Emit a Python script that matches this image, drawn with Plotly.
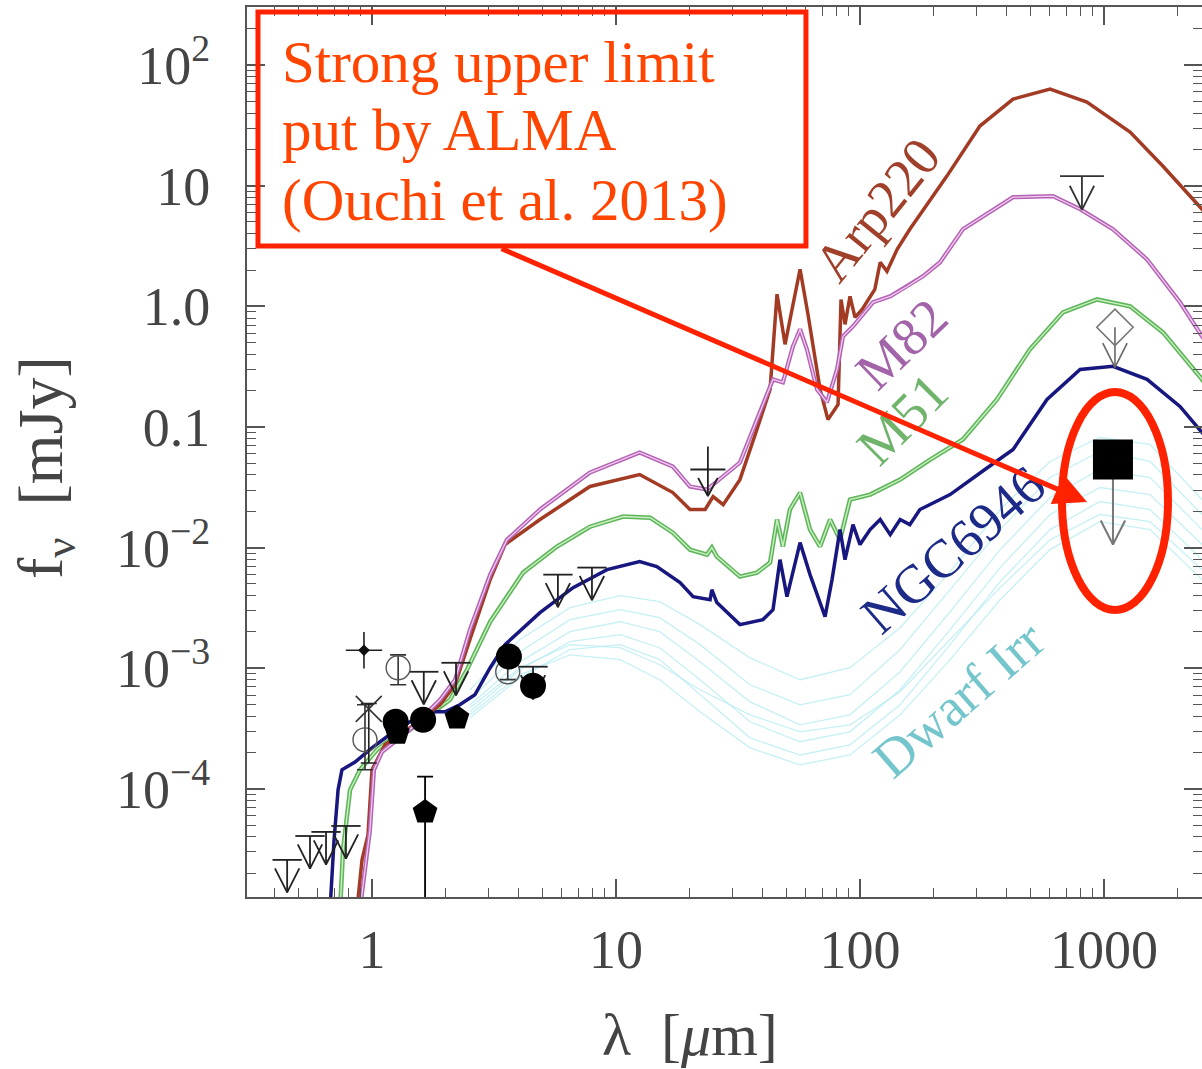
import plotly.graph_objects as go

# ---------------- data (wavelength in micron, flux in mJy) ----------------
ARP_LAM = [0.868, 0.910, 0.963, 1.0, 1.13, 1.43, 1.90, 2.19, 2.52, 3.05, 3.51, 4.88, 7.82, 12.5, 17.1, 20.1,
           23.2, 25.0, 27.5, 32.2, 37.8, 42.8, 45.7, 49.3, 56.8, 61.2, 68.6, 73.9, 81.3, 83.6, 86.8, 91.0,
           95.4, 102, 115, 121, 129, 142, 160, 227, 310, 424, 601, 851, 1279, 1745, 2522, 3610]
ARP_F = [1e-5, 2.58e-5, 4.15e-5, 1.44e-4, 2.32e-4, 3.21e-4, 4.98e-4, 7.3e-4, 1.73e-3, 5.43e-3, 1.06e-2, 1.71e-2,
         3.21e-2, 4.03e-2, 2.86e-2, 2.07e-2, 2.07e-2, 2.65e-2, 2.27e-2, 3.66e-2, 9.53e-2, 0.205, 1.26, 0.484,
         2.03, 0.859, 0.205, 0.115, 0.154, 1.14, 0.709, 1.21, 0.811, 0.944, 1.38, 2.32, 1.95, 2.97, 4.35,
         12.0, 31.2, 52.2, 63.2, 49.3, 27.8, 14.5, 6.38, 2.36]

M82_LAM = [0.893, 0.936, 0.981, 1.019, 1.10, 1.24, 1.43, 1.90, 2.19, 2.52, 3.05, 3.57, 4.88, 7.82, 12.5, 17.1,
           20.1, 23.6, 27.5, 32.2, 37.8, 44.0, 48.3, 53.1, 56.8, 60.6, 66.6, 73.2, 80.5, 85.2, 93.6, 113, 133,
           156, 181, 213, 264, 424, 618, 798, 1088, 1501, 2048, 2522, 3610]
M82_F = [1e-5, 2.13e-5, 4.57e-5, 1.44e-4, 2.03e-4, 2.46e-4, 3.09e-4, 5.48e-4, 8.03e-4, 2.09e-3, 5.97e-3, 1.16e-2,
         2.07e-2, 4.19e-2, 6.14e-2, 4.70e-2, 3.21e-2, 3.03e-2, 3.88e-2, 5.07e-2, 0.115, 0.248, 0.234, 0.466,
         0.645, 0.440, 0.205, 0.160, 0.300, 0.564, 0.683, 1.08, 1.21, 1.46, 1.77, 2.32, 4.35, 8.03, 8.18, 6.38,
         4.35, 2.45, 1.08, 0.564, 0.205]

M51_LAM = [0.740, 0.761, 0.813, 0.893, 1.048, 1.185, 1.43, 1.778, 2.088, 2.45, 3.05, 4.16, 5.73, 7.82, 10.7,
           13.8, 17.1, 20.1, 23.6, 24.7, 25.9, 32.2, 37.8, 42.8, 45.7, 48.3, 51.6, 56.8, 62.4, 68.6, 75.4, 82.8,
           91.0, 110, 146, 194, 264, 364, 497, 679, 936, 1279, 1745, 2522, 3610]
M51_F = [1e-5, 3.12e-5, 9.82e-5, 1.44e-4, 2.11e-4, 2.55e-4, 3.09e-4, 4.36e-4, 5.48e-4, 9.72e-4, 2.43e-3, 6.20e-3,
         1.02e-2, 1.49e-2, 1.81e-2, 1.77e-2, 1.33e-2, 9.62e-3, 8.75e-3, 1.0e-2, 8.42e-3, 5.75e-3, 6.20e-3,
         7.51e-3, 1.71e-2, 1.02e-2, 2.07e-2, 2.86e-2, 1.41e-2, 1.02e-2, 1.71e-2, 1.16e-2, 2.50e-2, 2.75e-2,
         3.66e-2, 5.37e-2, 7.88e-2, 0.169, 0.440, 0.891, 1.14, 1.00, 0.608, 0.248, 0.0866]

NGC_LAM = [0.673, 0.699, 0.726, 0.753, 0.852, 1.0, 1.21, 1.43, 1.73, 1.99, 2.29, 2.64, 3.05, 3.51, 4.88, 6.67,
           9.19, 12.5, 14.7, 18.3, 20.7, 24.3, 24.7, 25.9, 32.2, 40.0, 44.0, 47.0, 50.2, 56.8, 62.4, 71.9, 76.8,
           82.8, 86.8, 93.6, 100, 110, 121, 133, 146, 160, 176, 234, 325, 424, 584, 798, 1088, 1501, 2048, 2522,
           3610]
NGC_F = [1e-5, 3.77e-5, 9.82e-5, 1.44e-4, 1.67e-4, 2.19e-4, 2.92e-4, 3.60e-4, 4.36e-4, 4.36e-4, 4.98e-4, 6.03e-4,
         1.01e-3, 1.57e-3, 2.89e-3, 4.66e-3, 6.57e-3, 7.65e-3, 6.96e-3, 5.13e-3, 3.92e-3, 3.70e-3, 4.48e-3,
         3.50e-3, 2.30e-3, 2.53e-3, 3.06e-3, 7.95e-3, 3.92e-3, 1.10e-2, 5.97e-3, 2.68e-3, 5.43e-3, 1.41e-2,
         7.95e-3, 1.55e-2, 1.06e-2, 1.41e-2, 1.71e-2, 1.28e-2, 1.71e-2, 1.55e-2, 2.07e-2, 2.75e-2, 4.44e-2,
         6.50e-2, 0.169, 0.300, 0.318, 0.248, 0.148, 0.0900, 0.0403]

DW_LAM = [2.52, 4.04, 6.48, 10.4, 15.1, 22.1, 35.4, 56.8, 91.0, 146, 234, 375, 601, 963, 1544, 2522]
DW_F = [
    [6.63e-4, 1.73e-3, 3.18e-3, 4.0e-3, 3.56e-3, 2.30e-3, 1.22e-3, 8.03e-4, 1.01e-3, 2.17e-3, 6.32e-3, 2.07e-2, 5.18e-2, 8.18e-2, 7.16e-2, 2.50e-2],
    [5.48e-4, 1.37e-3, 2.53e-3, 3.06e-3, 2.63e-3, 1.57e-3, 7.3e-4, 4.98e-4, 6.03e-4, 1.43e-3, 4.48e-3, 1.41e-2, 3.81e-2, 6.27e-2, 5.18e-2, 1.88e-2],
    [4.98e-4, 1.13e-3, 2.01e-3, 2.43e-3, 2.01e-3, 1.13e-3, 5.27e-4, 3.40e-4, 4.11e-4, 9.35e-4, 2.94e-3, 9.62e-3, 2.60e-2, 4.44e-2, 3.81e-2, 1.41e-2],
    [4.36e-4, 9.72e-4, 1.66e-3, 1.90e-3, 1.48e-3, 8.03e-4, 3.60e-4, 2.46e-4, 2.97e-4, 6.63e-4, 2.09e-3, 6.83e-3, 1.88e-2, 3.15e-2, 2.75e-2, 1.06e-2],
    [3.88e-4, 8.34e-4, 1.43e-3, 1.57e-3, 1.18e-3, 6.03e-4, 2.65e-4, 1.91e-4, 2.32e-4, 4.98e-4, 1.57e-3, 5.22e-3, 1.41e-2, 2.41e-2, 2.07e-2, 7.95e-3],
    [4.70e-4, 1.01e-3, 1.57e-3, 1.48e-3, 1.07e-3, 6.63e-4, 4.11e-4, 2.97e-4, 3.40e-4, 6.38e-4, 1.73e-3, 4.66e-3, 1.16e-2, 1.88e-2, 1.64e-2, 6.57e-3],
    [4.11e-4, 8.84e-4, 1.29e-3, 1.18e-3, 8.03e-4, 4.36e-4, 2.19e-4, 1.58e-4, 1.91e-4, 4.11e-4, 1.18e-3, 3.70e-3, 9.62e-3, 1.64e-2, 1.41e-2, 5.43e-3],
]

# photometry
CIRC_LAM = [1.25, 1.62, 3.64, 4.57]
CIRC_F = [3.6e-4, 3.74e-4, 1.25e-3, 7.16e-4]
PENT_LAM = [1.27, 2.23, 1.65]
PENT_F = [2.9e-4, 3.88e-4, 6.44e-5]
PENT_ERR_UP = [0, 0, 6.2e-5]
PENT_ERR_DN = [0, 0, 6.43e-5]
OPEN_LAM = [0.936, 1.28, 3.60]
OPEN_F = [2.55e-4, 1.01e-3, 9.35e-4]
OPEN_ERR_UP = [2.43e-4, 2.8e-4, 1.2e-4]
OPEN_ERR_DN = [1.11e-4, 2.8e-4, 1.3e-4]
STAR_LAM = [0.927]
STAR_F = [1.41e-3]
X_LAM = [0.97]
X_F = [4.6e-4]

UL_LAM = [0.449, 0.557, 0.648, 0.782, 1.63, 2.21, 4.57, 5.78, 7.97]
UL_F = [2.58e-5, 4.07e-5, 4.40e-5, 4.93e-5, 9.35e-4, 1.11e-3, 1.03e-3, 5.97e-3, 6.83e-3]
MIPS_LAM, MIPS_F, MIPS_TOP = 23.8, 4.44e-2, 6.89e-2
SUB_UL_LAM, SUB_UL_F = 812, 12.0
DIAM_LAM, DIAM_F, DIAM_TIP = 1109, 0.670, 0.312
ALMA_LAM, ALMA_F, ALMA_TIP = 1088, 5.37e-2, 1.06e-2

Y_TICKS = [1e-4, 1e-3, 1e-2, 0.1, 1, 10, 100]
Y_TEXT = ["10<sup>−4</sup>", "10<sup>−3</sup>", "10<sup>−2</sup>", "0.1", "1.0", "10", "10<sup>2</sup>"]
X_TICKS = [1, 10, 100, 1000]
X_TEXT = ["1", "10", "100", "1000"]


def ul_paths(lams, fs, w=0.06, L=0.27, a=0.05, b=0.2, tips=None):
    xs, ys = [], []
    for i, (lam, f) in enumerate(zip(lams, fs)):
        tip = tips[i] if tips else f * 10 ** (-L)
        if w > 0:
            xs += [lam * 10 ** -w, lam * 10 ** w, None]
            ys += [f, f, None]
        xs += [lam, lam, None, lam * 10 ** -a, lam, lam * 10 ** a, None]
        ys += [f, tip, None, tip * 10 ** b, tip, tip * 10 ** b, None]
    return xs, ys


fig = go.Figure()

# dwarf irregulars
for fl in DW_F:
    fig.add_trace(go.Scatter(x=DW_LAM, y=fl, mode="lines", line=dict(color="#b4ecf2", width=1.3),
                             opacity=0.75, hoverinfo="skip", showlegend=False))

# templates
fig.add_trace(go.Scatter(x=M51_LAM, y=M51_F, mode="lines", line=dict(color="#5fb65a", width=4.5), showlegend=False))
fig.add_trace(go.Scatter(x=M51_LAM, y=M51_F, mode="lines", line=dict(color="#c9efc2", width=1.4), showlegend=False))
fig.add_trace(go.Scatter(x=NGC_LAM, y=NGC_F, mode="lines", line=dict(color="#17177f", width=3.5), showlegend=False))
fig.add_trace(go.Scatter(x=ARP_LAM, y=ARP_F, mode="lines", line=dict(color="#a33b24", width=3.5), showlegend=False))
fig.add_trace(go.Scatter(x=M82_LAM, y=M82_F, mode="lines", line=dict(color="#b462b4", width=4.2), showlegend=False))
fig.add_trace(go.Scatter(x=M82_LAM, y=M82_F, mode="lines", line=dict(color="#f0cdf0", width=1.3), showlegend=False))

# upper limits
ux, uy = ul_paths(UL_LAM, UL_F)
fig.add_trace(go.Scatter(x=ux, y=uy, mode="lines", line=dict(color="#222", width=1.8), showlegend=False))
mx, my = ul_paths([MIPS_LAM], [MIPS_F], w=0.072, L=0.22, a=0.04, b=0.15)
mx += [MIPS_LAM, MIPS_LAM]
my += [MIPS_TOP, MIPS_F]
fig.add_trace(go.Scatter(x=mx, y=my, mode="lines", line=dict(color="#222", width=1.8), showlegend=False))
sx, sy = ul_paths([SUB_UL_LAM], [SUB_UL_F], w=0.09, L=0.28, a=0.05, b=0.2)
fig.add_trace(go.Scatter(x=sx, y=sy, mode="lines", line=dict(color="#333", width=1.8), showlegend=False))
dx, dy = ul_paths([DIAM_LAM], [DIAM_F], w=0, a=0.05, b=0.2, tips=[DIAM_TIP])
fig.add_trace(go.Scatter(x=dx, y=dy, mode="lines", line=dict(color="#666", width=1.6), showlegend=False))
fig.add_trace(go.Scatter(x=[DIAM_LAM], y=[DIAM_F], mode="markers",
                         marker=dict(symbol="diamond-open", size=28, color="#777", line=dict(width=1.6)),
                         showlegend=False))
ax_, ay_ = ul_paths([ALMA_LAM], [ALMA_F], w=0, a=0.05, b=0.2, tips=[ALMA_TIP])
fig.add_trace(go.Scatter(x=ax_, y=ay_, mode="lines", line=dict(color="#777", width=2), showlegend=False))
fig.add_trace(go.Scatter(x=[ALMA_LAM], y=[ALMA_F], mode="markers",
                         marker=dict(symbol="square", size=40, color="black"), showlegend=False))

# photometry points
fig.add_trace(go.Scatter(x=OPEN_LAM, y=OPEN_F, mode="markers",
                         marker=dict(symbol="circle-open", size=24, color="#555", line=dict(width=1.4)),
                         error_y=dict(type="data", symmetric=False, array=OPEN_ERR_UP, arrayminus=OPEN_ERR_DN,
                                      color="#333", thickness=1.6, width=8),
                         showlegend=False))
fig.add_trace(go.Scatter(x=X_LAM, y=X_F, mode="markers",
                         marker=dict(symbol="x-thin-open", size=26, color="#333", line=dict(width=1.6)),
                         error_y=dict(type="data", symmetric=False, array=[5e-5], arrayminus=[2.96e-4],
                                      color="#222", thickness=1.6, width=8),
                         showlegend=False))
fig.add_trace(go.Scatter(x=STAR_LAM, y=STAR_F, mode="markers",
                         marker=dict(symbol="cross-thin-open", size=26, color="#222", line=dict(width=1.6)),
                         showlegend=False))
fig.add_trace(go.Scatter(x=STAR_LAM, y=STAR_F, mode="markers",
                         marker=dict(symbol="diamond", size=9, color="#111"), showlegend=False))
fig.add_trace(go.Scatter(x=PENT_LAM, y=PENT_F, mode="markers",
                         marker=dict(symbol="pentagon", size=26, color="black"),
                         error_y=dict(type="data", symmetric=False, array=PENT_ERR_UP, arrayminus=PENT_ERR_DN,
                                      color="black", thickness=1.8, width=8),
                         showlegend=False))
fig.add_trace(go.Scatter(x=CIRC_LAM, y=CIRC_F, mode="markers",
                         marker=dict(symbol="circle", size=26, color="black"), showlegend=False))

# ---------------- axes ----------------
x_minor = [m * 10 ** e for e in range(-1, 4) for m in range(2, 10)]
y_minor = [m * 10 ** e for e in range(-5, 3) for m in range(2, 10)]
axis_common = dict(type="log", ticks="inside", ticklen=18, tickwidth=1.5, tickcolor="#555",
                   showline=True, linecolor="#555", linewidth=2, mirror="ticks", showgrid=False,
                   zeroline=False, automargin=False,
                   tickfont=dict(family="Liberation Serif", size=54, color="#444"))
fig.update_xaxes(range=[-0.5123, 3.4016], tickmode="array", tickvals=X_TICKS, ticktext=X_TEXT,
                 ticklabelstandoff=4,
                 minor=dict(tickmode="array", tickvals=x_minor, ticks="inside", ticklen=9,
                            tickwidth=1.3, tickcolor="#555", showgrid=False),
                 **axis_common)
fig.update_yaxes(range=[-4.896, 2.481], tickmode="array", tickvals=Y_TICKS, ticktext=Y_TEXT,
                 ticklabelstandoff=24,
                 minor=dict(tickmode="array", tickvals=y_minor, ticks="inside", ticklen=9,
                            tickwidth=1.3, tickcolor="#555", showgrid=False),
                 **axis_common)

serif = "Liberation Serif"
ann = []
# template labels (x,y in log10 data units)
for text, lx, ly, ang, col in [("Arp220", 2.070, 0.797, -51, "#a0402a"),
                               ("M82", 2.172, -0.315, -44, "#a263a8"),
                               ("M51", 2.176, -0.938, -45, "#6fb46a"),
                               ("NGC6946", 2.381, -2.017, -41, "#1c2a88"),
                               ("Dwarf Irr", 2.402, -3.261, -41, "#74c6cc")]:
    ann.append(dict(text=text, x=lx, y=ly, xref="x", yref="y", showarrow=False, textangle=ang,
                    font=dict(family=serif, size=54, color=col)))

# axis titles
ann.append(dict(text="λ  [<i>μ</i>m]", x=0.4639, y=-0.155, xref="paper", yref="paper", showarrow=False,
                xanchor="center", yanchor="middle", font=dict(family=serif, size=60, color="#444")))
ann.append(dict(text="f<sub>ν</sub>  [mJy]", x=-0.2115, y=0.482, xref="paper", yref="paper", showarrow=False,
                textangle=-90, xanchor="center", yanchor="middle",
                font=dict(family=serif, size=64, color="#444")))

# callout text
for txt, py in [("Strong upper limit", 0.938), ("put by ALMA", 0.862), ("(Ouchi et al. 2013)", 0.783)]:
    ann.append(dict(text=txt, x=0.0346, y=py, xref="paper", yref="paper", showarrow=False,
                    xanchor="left", yanchor="middle", font=dict(family=serif, size=59, color="#ff4500")))
# arrow
ann.append(dict(text="", x=0.8796, y=0.4438, xref="paper", yref="paper", showarrow=True,
                ax=-587, ay=-254, axref="pixel", ayref="pixel", arrowhead=2, arrowsize=1.3,
                arrowwidth=5, arrowcolor="#ff2200"))

shapes = [
    dict(type="rect", xref="paper", yref="paper", x0=0.0115, x1=0.5853, y0=0.7315, y1=0.9944,
         line=dict(color="#ff2200", width=5), fillcolor="rgba(0,0,0,0)"),
    dict(type="circle", xref="paper", yref="paper", x0=0.8534, x1=0.9644, y0=0.3225, y1=0.5674,
         line=dict(color="#ff2200", width=8)),
]

fig.update_layout(width=1202, height=1069, margin=dict(l=247, r=0, t=7, b=172, autoexpand=False),
                  plot_bgcolor="white", paper_bgcolor="white", annotations=ann, shapes=shapes,
                  showlegend=False)

fig.write_html("out.html", config={"displayModeBar": False},
               post_script="document.body.style.margin='0';document.body.style.padding='0';"
                           "document.body.style.overflow='hidden';")
